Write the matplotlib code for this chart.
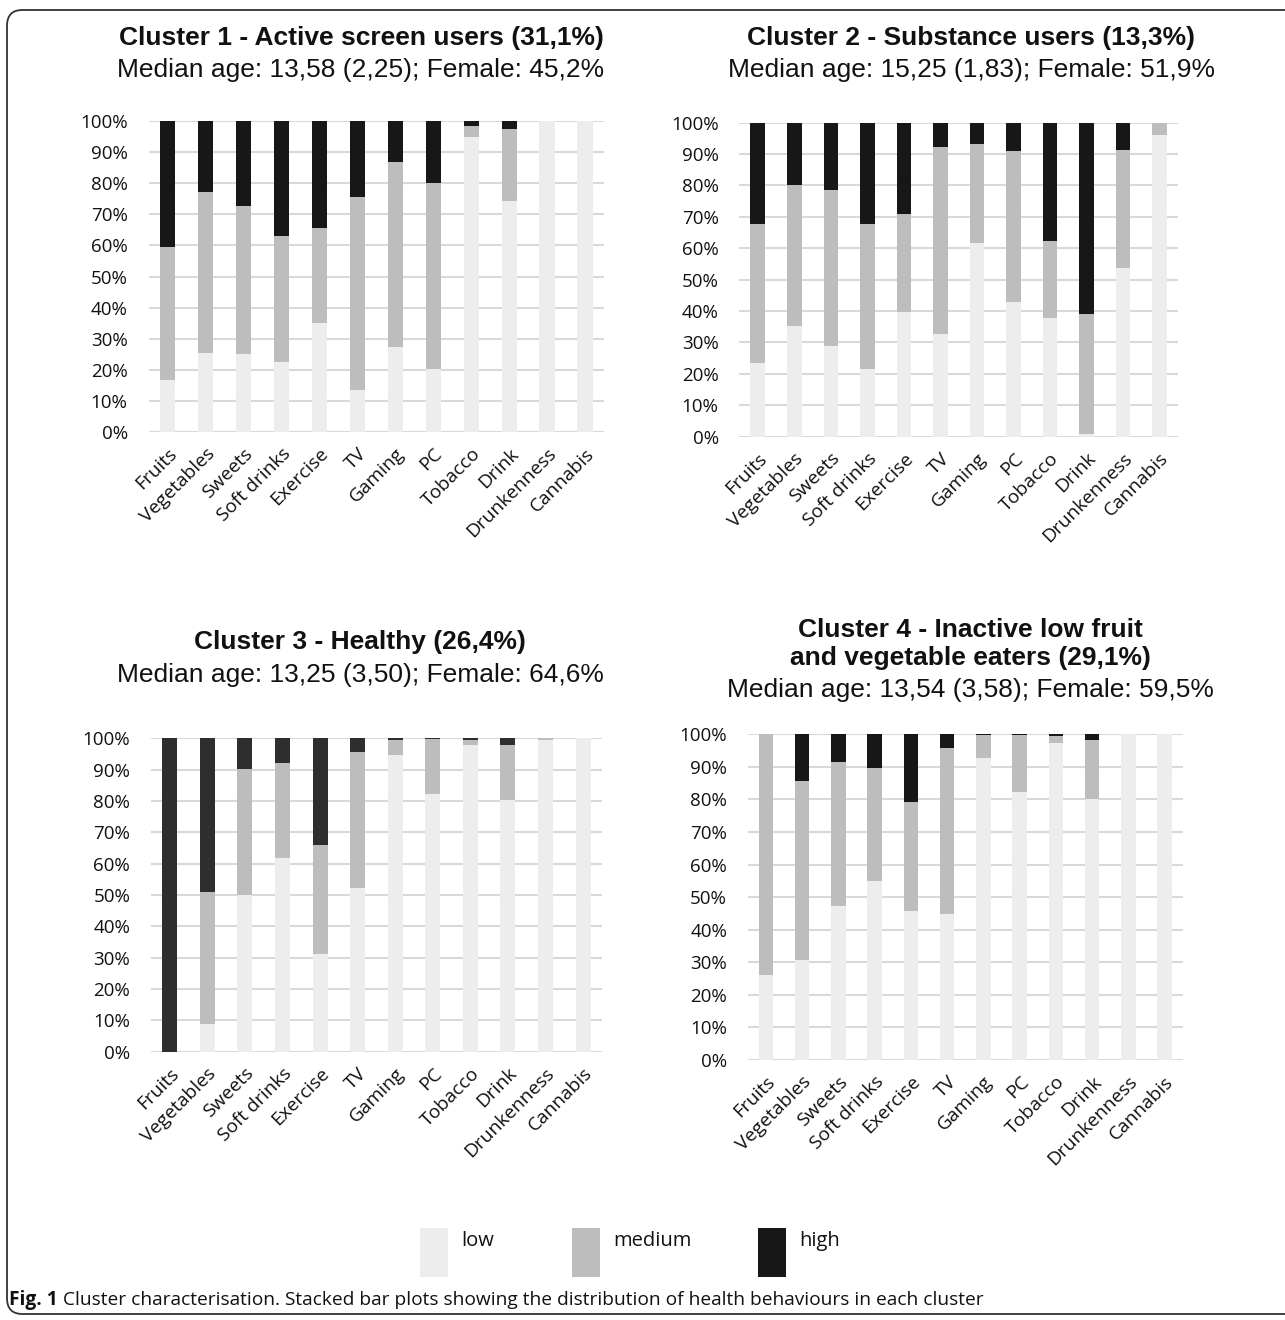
import matplotlib
matplotlib.use("Agg")
import matplotlib.pyplot as plt
from matplotlib.patches import FancyBboxPatch, Rectangle
from matplotlib.ticker import PercentFormatter

categories = ["Fruits", "Vegetables", "Sweets", "Soft drinks", "Exercise", "TV",
              "Gaming", "PC", "Tobacco", "Drink", "Drunkenness", "Cannabis"]

c1_low = [16.8, 25.6, 25.1, 22.5, 35.0, 13.6, 27.4, 20.3, 94.9, 74.3, 99.8, 100.0]
c1_med = [42.6, 51.4, 47.5, 40.5, 30.6, 61.9, 59.2, 59.6, 3.4, 23.1, 0.2, 0.0]
c1_high = [40.6, 23.0, 27.4, 37.0, 34.4, 24.5, 13.4, 20.1, 1.7, 2.6, 0.0, 0.0]

c2_low = [23.5, 35.2, 28.9, 21.5, 39.8, 32.7, 61.6, 42.8, 37.8, 0.8, 53.7, 96.0]
c2_med = [44.2, 44.8, 49.7, 46.1, 31.2, 59.6, 31.5, 48.2, 24.6, 38.3, 37.6, 4.0]
c2_high = [32.3, 20.0, 21.4, 32.4, 29.0, 7.7, 6.9, 9.0, 37.6, 60.9, 8.7, 0.0]

c3_low = [0.0, 8.7, 50.0, 61.9, 31.2, 52.1, 94.7, 82.2, 97.9, 80.4, 99.3, 100.0]
c3_med = [0.0, 42.4, 40.1, 30.1, 34.8, 43.4, 4.8, 17.7, 1.4, 17.5, 0.7, 0.0]
c3_high = [100.0, 48.9, 9.9, 8.0, 34.0, 4.5, 0.5, 0.1, 0.7, 2.1, 0.0, 0.0]

c4_low = [26.1, 30.7, 47.3, 55.0, 45.8, 44.7, 92.6, 82.4, 97.4, 80.2, 100.0, 100.0]
c4_med = [73.9, 54.9, 44.1, 34.8, 33.5, 51.0, 7.2, 17.3, 2.1, 18.0, 0.0, 0.0]
c4_high = [0.0, 14.4, 8.6, 10.2, 20.7, 4.3, 0.2, 0.3, 0.5, 1.8, 0.0, 0.0]

titles = ["Cluster 1 - Active screen users (31,1%)",
          "Cluster 2 - Substance users (13,3%)",
          "Cluster 3 - Healthy (26,4%)",
          "Cluster 4 - Inactive low fruit\nand vegetable eaters (29,1%)"]
subtitles = ["Median age: 13,58 (2,25); Female: 45,2%",
             "Median age: 15,25 (1,83); Female: 51,9%",
             "Median age: 13,25 (3,50); Female: 64,6%",
             "Median age: 13,54 (3,58); Female: 59,5%"]
legend_labels = ["low", "medium", "high"]
caption_bold = "Fig. 1"
caption_rest = "Cluster characterisation. Stacked bar plots showing the distribution of health behaviours in each cluster"

W, H = 1285, 1320
fig = plt.figure(figsize=(W / 100, H / 100), dpi=100)
fig.patch.set_facecolor("white")

# frame
frame = FancyBboxPatch((7 / W, 6 / H), 1.2, 1 - 16 / H,
                       boxstyle="round,pad=0,rounding_size=0.012",
                       transform=fig.transFigure, fill=False,
                       edgecolor="#333333", linewidth=1.3, clip_on=False)
fig.patches.append(frame)

col_low = "#ECEDEC"
col_med = "#BDBDBD"
col_high = ["#171717", "#171717", "#2E2E2E", "#171717"]

# pixel boxes: left, right, top(100%), bottom(0%)
boxes = [(148.5, 604, 120.7, 432.3),
         (739.5, 1177.8, 122.7, 436.7),
         (151, 601.8, 738.3, 1051.7),
         (747.9, 1182.6, 734.3, 1060)]

data = [(c1_low, c1_med, c1_high), (c2_low, c2_med, c2_high),
        (c3_low, c3_med, c3_high), (c4_low, c4_med, c4_high)]

tick_font = "Open Sans"
title_font = "Liberation Sans"
txt_col = "#111111"

for i, ((l, r, t, b), (lo, me, hi)) in enumerate(zip(boxes, data)):
    ax = fig.add_axes([l / W, (H - b) / H, (r - l) / W, (b - t) / H])
    x = list(range(len(categories)))
    bw = 0.4
    ax.bar(x, lo, width=bw, color=col_low, zorder=3)
    ax.bar(x, me, width=bw, bottom=lo, color=col_med, zorder=3)
    bottoms2 = [a + c for a, c in zip(lo, me)]
    ax.bar(x, hi, width=bw, bottom=bottoms2, color=col_high[i], zorder=3)
    ax.set_xlim(-0.5, len(categories) - 0.5)
    ax.set_ylim(0, 100)
    ax.set_yticks(range(0, 101, 10))
    ax.yaxis.set_major_formatter(PercentFormatter(decimals=0))
    ax.grid(axis="y", color="#D9D9D9", linewidth=1.5, zorder=0)
    ax.set_axisbelow(True)
    for s in ax.spines.values():
        s.set_visible(False)
    ax.tick_params(length=0)
    ax.tick_params(axis="y", labelsize=13.5, pad=15)
    ax.tick_params(axis="x", pad=9)
    ax.set_xticks(x)
    ax.set_xticklabels(categories, rotation=45, ha="right",
                       rotation_mode="anchor", fontsize=13.8, family=tick_font,
                       color=txt_col)
    for lab in ax.get_yticklabels():
        lab.set_family(tick_font)
        lab.set_color(txt_col)

# titles
fs_t = 19
cx = [361, 971, 360, 970]
fig.text(cx[0] / W, 1 - 38 / H, titles[0], ha="center", va="center",
         family=title_font, fontweight="bold", fontsize=fs_t, color=txt_col)
fig.text(cx[0] / W, 1 - 70 / H, subtitles[0], ha="center", va="center",
         family=title_font, fontsize=fs_t, color=txt_col)
fig.text(cx[1] / W, 1 - 38 / H, titles[1], ha="center", va="center",
         family=title_font, fontweight="bold", fontsize=fs_t, color=txt_col)
fig.text(cx[1] / W, 1 - 70 / H, subtitles[1], ha="center", va="center",
         family=title_font, fontsize=fs_t, color=txt_col)
fig.text(cx[2] / W, 1 - 642 / H, titles[2], ha="center", va="center",
         family=title_font, fontweight="bold", fontsize=fs_t, color=txt_col)
fig.text(cx[2] / W, 1 - 675 / H, subtitles[2], ha="center", va="center",
         family=title_font, fontsize=fs_t, color=txt_col)
fig.text(cx[3] / W, 1 - 644 / H, titles[3], ha="center", va="center",
         family=title_font, fontweight="bold", fontsize=fs_t, color=txt_col,
         linespacing=1.2)
fig.text(cx[3] / W, 1 - 690 / H, subtitles[3], ha="center", va="center",
         family=title_font, fontsize=fs_t, color=txt_col)

# legend
leg_cols = [col_low, col_med, col_high[0]]
leg_x = [420, 572, 758]
for lx, lc, lt in zip(leg_x, leg_cols, legend_labels):
    fig.patches.append(Rectangle((lx / W, 1 - 1277 / H), 28 / W, 49 / H,
                                 transform=fig.transFigure, facecolor=lc,
                                 edgecolor="none"))
    fig.text((lx + 41) / W, 1 - 1241 / H, lt, ha="left", va="center",
             family=tick_font, fontsize=14.5, color=txt_col)

# caption
t1 = fig.text(9 / W, 1 - 1300 / H, caption_bold + " ", ha="left", va="center",
              family=tick_font, fontweight="bold", fontsize=13.8, color=txt_col)
fig.canvas.draw()
bb = t1.get_window_extent()
fig.text(bb.x1 / W, 1 - 1300 / H, caption_rest, ha="left", va="center",
         family=tick_font, fontsize=13.8, color=txt_col)

fig.savefig("out.png", dpi=100, facecolor="white")
